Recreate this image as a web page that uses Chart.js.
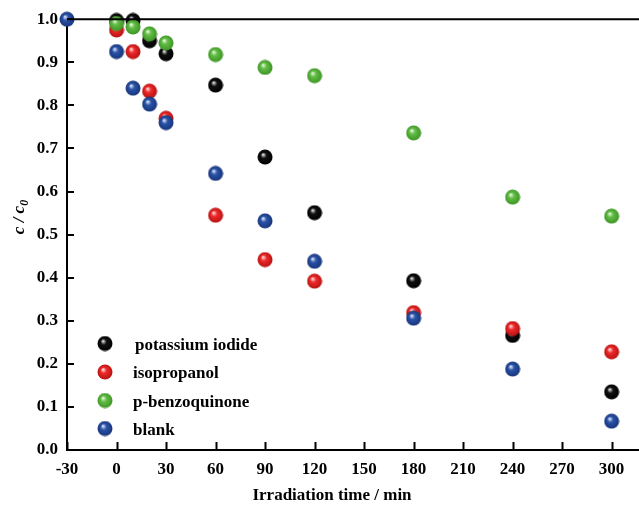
<!DOCTYPE html>
<html>
<head>
<meta charset="utf-8">
<script src="https://cdn.jsdelivr.net/npm/chart.js@4.4.0/dist/chart.umd.min.js"></script>
<style>
  html, body { margin: 0; padding: 0; background: #fff; overflow: hidden; }
  #wrap { width: 639px; height: 506px; overflow: hidden; }
  canvas { display: block; }
</style>
</head>
<body>
<div id="wrap"><canvas id="c" width="647" height="506"></canvas></div>
<script>
// irradiation times (min)
var timesBlank = [-30, 0, 10, 20, 30, 60, 90, 120, 180, 240, 300];
var times = [0, 10, 20, 30, 60, 90, 120, 180, 240, 300];

// c / c0 values
var potassiumIodide = [0.997, 0.997, 0.950, 0.920, 0.847, 0.680, 0.551, 0.393, 0.266, 0.135];
var isopropanol     = [0.975, 0.925, 0.833, 0.770, 0.545, 0.442, 0.392, 0.319, 0.282, 0.228];
var benzoquinone    = [0.990, 0.982, 0.966, 0.945, 0.918, 0.888, 0.869, 0.736, 0.587, 0.543];
var blank           = [1.000, 0.925, 0.840, 0.803, 0.760, 0.642, 0.532, 0.438, 0.306, 0.188, 0.067];

var xTicks = [-30, 0, 30, 60, 90, 120, 150, 180, 210, 240, 270, 300];
var seriesNames = ['potassium iodide', 'isopropanol', 'p-benzoquinone', 'blank'];

var FONT = "'Liberation Serif', 'Times New Roman', serif";

// little shaded ball used as point marker
function ball(base, light, dark) {
    var r = 7.5;
    var cv = document.createElement('canvas');
    cv.width = 16; cv.height = 16;
    var g = cv.getContext('2d');
    var grad = g.createRadialGradient(6, 5.5, 0.5, 8, 8, r);
    grad.addColorStop(0, light);
    grad.addColorStop(0.35, base);
    grad.addColorStop(1, dark);
    g.fillStyle = grad;
    g.beginPath();
    g.arc(8, 8, r, 0, Math.PI * 2);
    g.fill();
    return cv;
}

var balls = [
    ball('#111111', '#d8d8d8', '#000000'),
    ball('#ee2a2a', '#ffd6d6', '#b81212'),
    ball('#62bd45', '#dff5d4', '#3e9526'),
    ball('#2a53a8', '#d4def5', '#18357a')
];

function pts(xs, ys) {
    var out = [];
    for (var i = 0; i < xs.length; i++) out.push({x: xs[i], y: ys[i]});
    return out;
}

// inward ticks, top frame line, axis titles, legend inside the plot
var decor = {
    id: 'decor',
    afterDraw: function(chart) {
        var ctx = chart.ctx;
        var a = chart.chartArea;
        var xs = chart.scales.x, ys = chart.scales.y;
        ctx.save();
        ctx.strokeStyle = '#000';
        ctx.lineWidth = 2;
        ctx.beginPath();
        ctx.moveTo(a.left, a.top);
        ctx.lineTo(chart.width, a.top);
        xs.ticks.forEach(function(t) {
            var px = Math.round(xs.getPixelForValue(t.value)) + 0.5;
            ctx.moveTo(px, a.bottom);
            ctx.lineTo(px, a.bottom - 8);
        });
        ys.ticks.forEach(function(t) {
            var py = Math.round(ys.getPixelForValue(t.value));
            ctx.moveTo(a.left, py);
            ctx.lineTo(a.left + 7, py);
        });
        ctx.stroke();

        // x title
        ctx.fillStyle = '#000';
        ctx.font = 'bold 17px ' + FONT;
        ctx.textAlign = 'center';
        ctx.textBaseline = 'middle';
        ctx.fillText('Irradiation time / min', 332, 496);

        // y title: c / c0
        ctx.textAlign = 'left';
        ctx.translate(24, 217);
        ctx.rotate(-Math.PI / 2);
        ctx.font = 'italic bold 17px ' + FONT;
        ctx.textBaseline = 'alphabetic';
        var main = 'c / c';
        var w = ctx.measureText(main).width;
        ctx.font = 'italic bold 12px ' + FONT;
        var w0 = ctx.measureText('0').width;
        var start = -(w + w0) / 2;
        ctx.font = 'italic bold 17px ' + FONT;
        ctx.fillText(main, start, 0);
        ctx.font = 'italic bold 12px ' + FONT;
        ctx.fillText('0', start + w, 4);
        ctx.restore();

        // legend
        ctx.save();
        ctx.font = 'bold 17px ' + FONT;
        ctx.fillStyle = '#000';
        ctx.textBaseline = 'middle';
        var rows = [343.5, 372, 400.5, 428.5];
        chart.data.datasets.forEach(function(ds, i) {
            ctx.drawImage(balls[i], 105 - 8, rows[i] - 8);
            ctx.fillText(ds.label, i === 0 ? 135 : 133, rows[i] + 2);
        });
        ctx.restore();
    }
};

var sets = [
    {label: seriesNames[0], data: pts(times, potassiumIodide), pointStyle: balls[0], order: 4},
    {label: seriesNames[1], data: pts(times, isopropanol), pointStyle: balls[1], order: 3},
    {label: seriesNames[2], data: pts(times, benzoquinone), pointStyle: balls[2], order: 2},
    {label: seriesNames[3], data: pts(timesBlank, blank), pointStyle: balls[3], order: 1}
];
sets.forEach(function(s) {
    s.showLine = false;
    s.clip = false;
    s.pointRadius = 7.5;
    s.pointHoverRadius = 7.5;
});

new Chart(document.getElementById('c').getContext('2d'), {
    type: 'scatter',
    data: {datasets: sets},
    plugins: [decor],
    options: {
        responsive: false,
        animation: false,
        events: [],
        layout: {padding: {top: 19, right: 0, left: 0, bottom: 0}},
        plugins: {
            legend: {display: false},
            tooltip: {enabled: false}
        },
        scales: {
            x: {
                type: 'linear',
                min: -30,
                max: 316.3,
                afterBuildTicks: function(scale) {
                    scale.ticks = xTicks.map(function(v) { return {value: v}; });
                },
                afterFit: function(scale) {
                    scale.height = 56;
                },
                grid: {display: false, drawTicks: false},
                border: {display: true, color: '#000', width: 2},
                ticks: {
                    color: '#000',
                    padding: 9,
                    font: {family: FONT, size: 17, weight: 'bold'},
                    callback: function(v) { return v; }
                }
            },
            y: {
                min: 0,
                max: 1,
                afterFit: function(scale) {
                    scale.width = 67;
                },
                grid: {display: false, drawTicks: false},
                border: {display: true, color: '#000', width: 2},
                ticks: {
                    stepSize: 0.1,
                    color: '#000',
                    padding: 9,
                    font: {family: FONT, size: 17, weight: 'bold'},
                    callback: function(v) { return v.toFixed(1); }
                }
            }
        }
    }
});
</script>
</body>
</html>
